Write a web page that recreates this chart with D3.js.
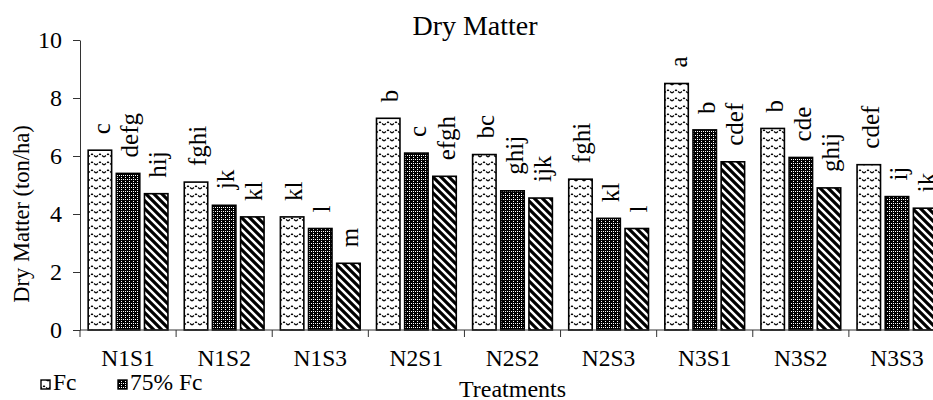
<!DOCTYPE html>
<html>
<head>
<meta charset="utf-8">
<script src="https://cdn.jsdelivr.net/npm/d3@7"></script>
<style>
  body { margin: 0; background: #fff; overflow: hidden; }
  text { font-family: "Liberation Serif", "Times New Roman", serif; fill: #000; }
</style>
</head>
<body>
<div id="chart"></div>
<script>
// data
const treatments = ['N1S1', 'N1S2', 'N1S3', 'N2S1', 'N2S2', 'N2S3', 'N3S1', 'N3S2', 'N3S3'];
const seriesNames = ['Fc', '75% Fc', '50% Fc'];
const fcValues = [6.2, 5.1, 3.9, 7.3, 6.05, 5.2, 8.5, 6.95, 5.7];
const fc75Values = [5.4, 4.3, 3.5, 6.1, 4.8, 3.85, 6.9, 5.95, 4.6];
const fc50Values = [4.7, 3.9, 2.3, 5.3, 4.55, 3.5, 5.8, 4.9, 4.2];
const fcLetters = ['c', 'fghi', 'kl', 'b', 'bc', 'fghi', 'a', 'b', 'cdef'];
const fc75Letters = ['defg', 'jk', 'l', 'c', 'ghij', 'kl', 'b', 'cde', 'ij'];
const fc50Letters = ['hij', 'kl', 'm', 'efgh', 'ijk', 'l', 'cdef', 'ghij', 'ik'];
const yTicks = [0, 2, 4, 6, 8, 10];

const width = 933, height = 400;
const plot = { left: 80, right: 945, top: 40, bottom: 330 };

const svg = d3.select('#chart').append('svg')
    .attr('width', width)
    .attr('height', height);

// 패턴
const defs = svg.append('defs');

// Fc: white with zigzag chevrons
const p1 = defs.append('pattern').attr('id', 'pFc')
    .attr('patternUnits', 'userSpaceOnUse')
    .attr('width', 8).attr('height', 8);
p1.append('rect').attr('width', 8).attr('height', 8).attr('fill', '#fff');
p1.append('path').attr('d', 'M0,5L4,2L8,5')
    .attr('fill', 'none').attr('stroke', '#000').attr('stroke-width', 1.4)
    .attr('stroke-dasharray', '2.4,1.4');

// 75% Fc: black with small white dots
const p2 = defs.append('pattern').attr('id', 'pFc75')
    .attr('patternUnits', 'userSpaceOnUse')
    .attr('width', 4).attr('height', 4);
p2.append('rect').attr('width', 4).attr('height', 4).attr('fill', '#000');
p2.append('rect').attr('x', 1).attr('y', 1).attr('width', 1).attr('height', 1).attr('fill', '#fff');
p2.append('rect').attr('x', 3).attr('y', 3).attr('width', 1).attr('height', 1).attr('fill', '#fff');
p2.append('rect').attr('x', 1).attr('y', 3).attr('width', 1).attr('height', 1).attr('fill', '#fff');

// 50% Fc: wide diagonal stripes
const p3 = defs.append('pattern').attr('id', 'pFc50')
    .attr('patternUnits', 'userSpaceOnUse')
    .attr('width', 8).attr('height', 8);
p3.append('rect').attr('width', 8).attr('height', 8).attr('fill', '#fff');
p3.append('path').attr('d', 'M-2,-2L10,10M-2,6L2,10M6,-2L10,2')
    .attr('stroke', '#000').attr('stroke-width', 3.2);

const fills = ['url(#pFc)', 'url(#pFc75)', 'url(#pFc50)'];

// scales
const x = d3.scaleBand()
    .domain(treatments)
    .range([plot.left, plot.right])
    .paddingInner(0).paddingOuter(0);

const xInner = d3.scaleBand()
    .domain(seriesNames)
    .range([0, x.bandwidth()])
    .paddingInner(0.167)
    .paddingOuter(0.29);

const y = d3.scaleLinear()
    .domain([0, 10])
    .range([plot.bottom, plot.top]);

// bars
const seriesValues = [fcValues, fc75Values, fc50Values];
const seriesLetters = [fcLetters, fc75Letters, fc50Letters];

seriesNames.forEach((name, si) => {
    const rows = treatments.map((t, i) => ({ t, v: seriesValues[si][i], lab: seriesLetters[si][i] }));
    const g = svg.append('g');
    g.selectAll('rect')
        .data(rows)
        .enter()
        .append('rect')
        .attr('x', d => x(d.t) + xInner(name))
        .attr('y', d => y(d.v))
        .attr('width', xInner.bandwidth())
        .attr('height', d => y(0) - y(d.v))
        .attr('fill', fills[si])
        .attr('stroke', '#000')
        .attr('stroke-width', 1.6);

    g.selectAll('text')
        .data(rows)
        .enter()
        .append('text')
        .attr('transform', d => {
            const cx = x(d.t) + xInner(name) + xInner.bandwidth() / 2 + 2;
            return `translate(${cx},${y(d.v) - 16}) rotate(-90)`;
        })
        .attr('dy', '0.32em')
        .style('font-size', '25px')
        .text(d => d.lab);
});

// y axis
const yAxis = svg.append('g')
    .attr('transform', `translate(${plot.left},0)`)
    .call(d3.axisLeft(y).tickValues(yTicks).tickSize(7).tickPadding(11).tickSizeOuter(0));
yAxis.select('.domain').attr('stroke', '#333');
yAxis.selectAll('.tick line').attr('stroke', '#333');
yAxis.selectAll('text')
    .style('font-size', '24px')
    .style('font-family', '"Liberation Serif", "Times New Roman", serif')
    .attr('fill', '#000');

// x axis
const xAxis = svg.append('g');
xAxis.append('line')
    .attr('x1', plot.left).attr('x2', plot.right)
    .attr('y1', plot.bottom).attr('y2', plot.bottom)
    .attr('stroke', '#333');
xAxis.selectAll('.xtick')
    .data(treatments)
    .enter()
    .append('line')
    .attr('x1', d => x(d)).attr('x2', d => x(d))
    .attr('y1', plot.bottom).attr('y2', plot.bottom + 7)
    .attr('stroke', '#333');
xAxis.selectAll('.xlab')
    .data(treatments)
    .enter()
    .append('text')
    .attr('x', d => x(d) + x.bandwidth() / 2)
    .attr('y', plot.bottom + 36)
    .attr('text-anchor', 'middle')
    .style('font-size', '23.5px')
    .text(d => d);

// titles
svg.append('text')
    .attr('x', 475)
    .attr('y', 35)
    .attr('text-anchor', 'middle')
    .style('font-size', '28px')
    .text('Dry Matter');

svg.append('text')
    .attr('x', (plot.left + plot.right) / 2)
    .attr('y', 397)
    .attr('text-anchor', 'middle')
    .style('font-size', '24px')
    .text('Treatments');

svg.append('text')
    .attr('transform', 'translate(29,214) rotate(-90)')
    .attr('text-anchor', 'middle')
    .style('font-size', '22.5px')
    .text('Dry Matter (ton/ha)');

// legend (only first two entries visible)
const legendItems = seriesNames.slice(0, 2);
const legendX = [41, 118];
const legend = svg.append('g');
legendItems.forEach((name, i) => {
    legend.append('rect')
        .attr('x', legendX[i]).attr('y', 380)
        .attr('width', 9).attr('height', 9)
        .attr('fill', fills[i])
        .attr('stroke', '#000')
        .attr('stroke-width', 1.4);
    legend.append('text')
        .attr('x', legendX[i] + 12)
        .attr('y', 390)
        .style('font-size', '23.5px')
        .text(name);
});
</script>
</body>
</html>
